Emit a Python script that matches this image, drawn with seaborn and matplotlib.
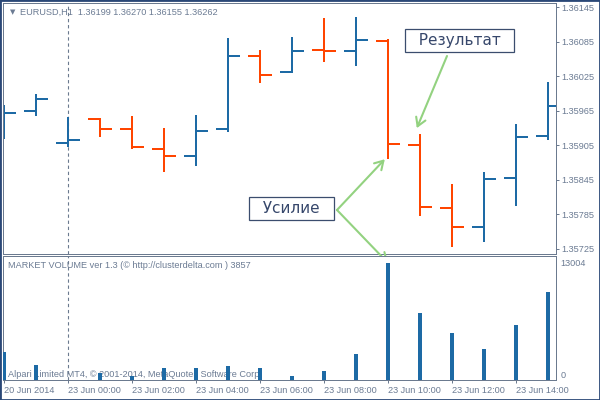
import numpy as np
import matplotlib
matplotlib.use("Agg")
import matplotlib.pyplot as plt
import seaborn as sns

# hourly EURUSD bars, 20 Jun 2014 22:00 .. 23 Jun 15:00
hours = list(range(18))
opens = [1.35940, 1.35965, 1.35909, 1.35951, 1.35934, 1.35899, 1.35887, 1.35934, 1.36060,
         1.36033, 1.36071, 1.36069, 1.36086, 1.35906, 1.35796, 1.35763, 1.35848, 1.35921]
highs = [1.35975, 1.35994, 1.35954, 1.35953, 1.35956, 1.35935, 1.35958, 1.36092, 1.36071,
         1.36093, 1.36126, 1.36128, 1.36090, 1.35925, 1.35838, 1.35859, 1.35942, 1.36015]
lows = [1.35916, 1.35956, 1.35902, 1.35920, 1.35899, 1.35859, 1.35869, 1.35928, 1.36013,
        1.36031, 1.36050, 1.36043, 1.35881, 1.35782, 1.35729, 1.35737, 1.35800, 1.35914]
closes = [1.35961, 1.35986, 1.35914, 1.35934, 1.35902, 1.35887, 1.35930, 1.36060, 1.36027,
          1.36069, 1.36069, 1.36088, 1.35907, 1.35798, 1.35763, 1.35847, 1.35920, 1.35973]
volumes = [3110, 1670, 0, 780, 440, 1330, 1330, 1560, 1330,
           440, 1000, 2890, 13004, 7450, 5220, 3440, 6110, 9780]

price_ticks = [1.35725, 1.35785, 1.35845, 1.35905, 1.35965, 1.36025, 1.36085, 1.36145]
time_ticks = [0, 2, 4, 6, 8, 10, 12, 14, 16]
time_labels = ["20 Jun 2014", "23 Jun 00:00", "23 Jun 02:00", "23 Jun 04:00", "23 Jun 06:00",
               "23 Jun 08:00", "23 Jun 10:00", "23 Jun 12:00", "23 Jun 14:00"]
separator_hour = 2  # start of 23 Jun

BLUE = "#1d6aa5"
RED = "#ff4500"
FRAME = "#6b7a8f"
LABEL = "#6b7b93"
GREEN = "#93d280"
NOTE = "#36476b"

sns.set_theme(style="white")
plt.rcParams["font.family"] = ["Liberation Sans", "DejaVu Sans"]

fig = plt.figure(figsize=(6, 4), dpi=100)
ax = fig.add_axes([3 / 600, 1 - 254 / 400, 553 / 600, 251 / 400])
axv = fig.add_axes([3 / 600, 1 - 380 / 400, 553 / 600, 124 / 400])

# --- price bars (OHLC)
lw = 1.44
for i, o, h, l, c in zip(hours, opens, highs, lows, closes):
    col = RED if c < o else BLUE
    ax.vlines(i, l, h, color=col, lw=lw, capstyle="butt")
    ax.hlines(o, i - 0.375, i, color=col, lw=lw, capstyle="butt")
    ax.hlines(c, i, i + 0.375, color=col, lw=lw, capstyle="butt")

ax.set_xlim(-1 / 32, 17.25)
ax.set_ylim(1.357163, 1.361525)
ax.set_xticks([])
ax.yaxis.tick_right()
ax.set_yticks(price_ticks)
ax.set_yticklabels([f"{p:.5f}" for p in price_ticks])
ax.tick_params(axis="y", right=True, length=2.2, width=0.72, color=FRAME, pad=2,
               labelsize=6.6, labelcolor=LABEL)
ax.axvline(separator_hour, color=FRAME, lw=0.8, ls=(0, (3, 2.5)), zorder=0)

ax.text(10 / 553, 0.964, "▼", transform=ax.transAxes, fontsize=5, color=LABEL,
        va="center", ha="center", family=["DejaVu Sans"])
ax.text(0.0307, 0.964, "EURUSD,H1  1.36199 1.36270 1.36155 1.36262", transform=ax.transAxes,
        fontsize=6.6, color=LABEL, va="center", ha="left")

# --- volume panel
sns.barplot(x=hours, y=volumes, native_scale=True, width=0.125, color=BLUE,
            saturation=1, linewidth=0, ax=axv, zorder=3)
axv.set_xlim(-1 / 32, 17.25)
axv.set_ylim(0, max(volumes) * 124 / 117)
axv.axvline(separator_hour, color=FRAME, lw=0.8, ls=(0, (3, 2.5)), zorder=1)
axv.yaxis.tick_right()
axv.set_yticks([0, max(volumes)])
axv.set_yticklabels(["0", str(max(volumes))])
axv.get_yticklabels()[0].set_va("bottom")
axv.tick_params(axis="y", right=True, length=0, pad=3, labelsize=6.6, labelcolor=LABEL)
axv.set_xticks(time_ticks)
axv.set_xticklabels(time_labels, ha="left")
axv.tick_params(axis="x", bottom=True, length=2.2, width=0.72, color=FRAME, pad=2,
                labelsize=6.6, labelcolor=LABEL)
axv.set_xlabel("")
axv.set_ylabel("")

axv.text(0.009, 0.927, "MARKET VOLUME ver 1.3 (© http://clusterdelta.com ) 3857",
         transform=axv.transAxes, fontsize=6.6, color=LABEL, va="center", ha="left", zorder=0)
axv.text(0.009, 0.048, "Alpari Limited MT4, © 2001-2014, MetaQuotes Software Corp.",
         transform=axv.transAxes, fontsize=6.6, color=LABEL, va="center", ha="left", zorder=0)

for a in (ax, axv):
    for s in a.spines.values():
        s.set_color(FRAME)
        s.set_linewidth(0.72)

# --- annotations
box = dict(boxstyle="square,pad=0.25", fc="white", ec="#3b4d6e", lw=0.9)
ax.text(0.8255, 0.8506, "  Результат  ", transform=ax.transAxes, fontsize=11,
        color=NOTE, ha="center", va="center", bbox=box, family=["DejaVu Sans"], zorder=6)
ax.text(0.5217, 0.1813, "  Усилие  ", transform=ax.transAxes, fontsize=11,
        color=NOTE, ha="center", va="center", bbox=box, family=["DejaVu Sans"], zorder=6)

arrow = dict(arrowstyle="->,head_length=0.5,head_width=0.3", color=GREEN, lw=1.5,
             shrinkA=0, shrinkB=0, mutation_scale=12)
ax.annotate("", xy=(13 - 0.1, highs[13] + 0.0001), xycoords="data",
            xytext=(447 / 600, 1 - 56 / 400), textcoords="figure fraction",
            arrowprops=arrow, annotation_clip=False, zorder=7)
ax.annotate("", xy=(12 - 0.1, lows[12]), xycoords="data",
            xytext=(337 / 600, 1 - 210 / 400), textcoords="figure fraction",
            arrowprops=arrow, annotation_clip=False, zorder=7)
ax.annotate("", xy=(12, volumes[12]), xycoords=axv.transData,
            xytext=(337 / 600, 1 - 210 / 400), textcoords="figure fraction",
            arrowprops=arrow, annotation_clip=False, zorder=7)

# outer window frame
fig.add_artist(plt.Rectangle((0, 0), 1, 1, transform=fig.transFigure, fill=False,
                             ec="#2a4877", lw=2))

fig.savefig("out.png", dpi=100)
